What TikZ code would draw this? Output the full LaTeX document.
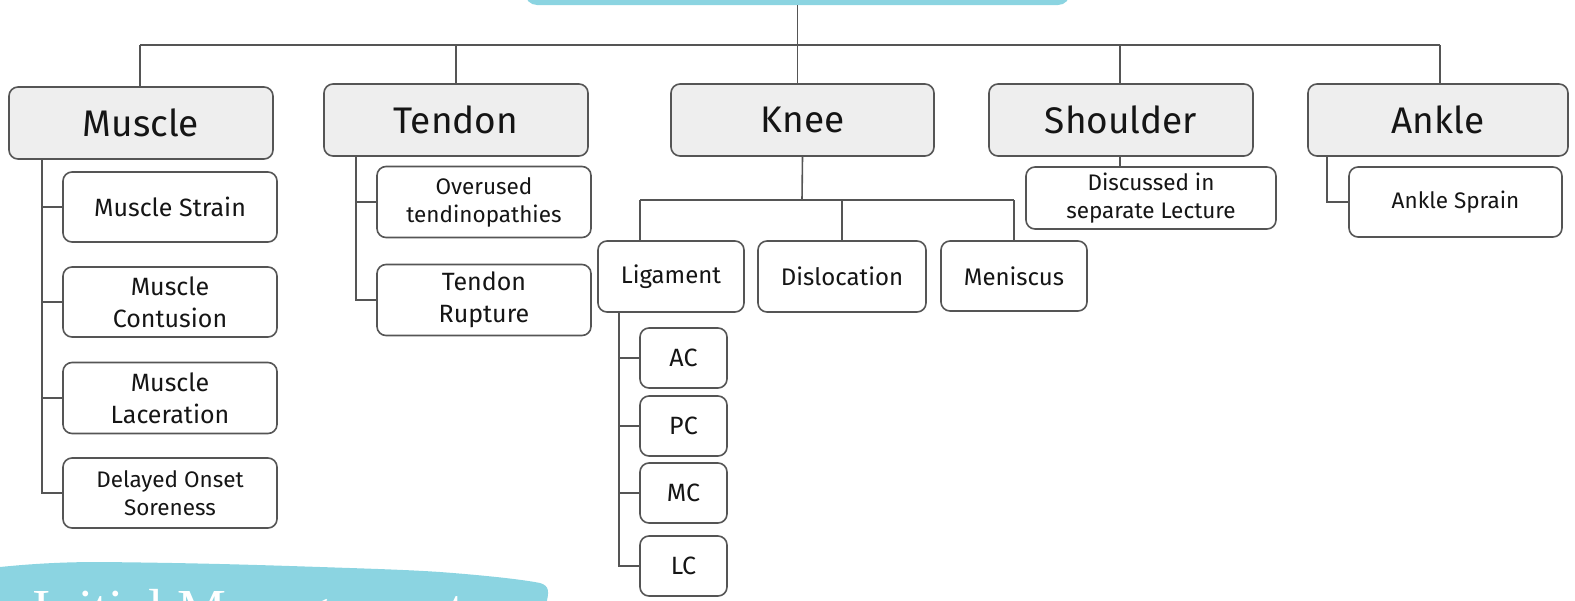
\documentclass[tikz,border=0pt]{standalone}
\usepackage{fontspec}
\setmainfont{Fira Sans}
\newfontfamily\brushfont{Liberation Serif}
\definecolor{brush}{HTML}{8BD4E1}
\definecolor{lgray}{HTML}{555555}
\definecolor{boxfill}{HTML}{EEEEEE}
\definecolor{txt}{HTML}{151515}
\tikzset{
  conn/.style={draw=lgray, line width=1.6pt},
  box/.style={draw=lgray, line width=1.6pt, rounded corners=9pt, fill=white,
     text=txt, align=center, inner sep=0pt, font=\fontsize{25}{32}\selectfont},
  topbox/.style={box, fill=boxfill, minimum width=264, minimum height=72,
     font=\fontsize{37}{42}\selectfont},
  smallbox/.style={box, font=\fontsize{22.5}{28}\selectfont},
  midbox/.style={box, font=\fontsize{24}{28}\selectfont},
}
\begin{document}
\begin{tikzpicture}[x=1pt,y=-1pt]
\useasboundingbox (0,0) rectangle (1575,600);
% top banner (cut by the page edge)
\node[fill=brush, rounded corners=12pt, minimum width=545, minimum height=40, inner sep=0pt] (root) at (797.5,-15) {};
% bottom-left brush banner
\fill[brush] (0,567) .. controls (30,564) and (60,562) .. (100,562)
  .. controls (200,563) and (260,565) .. (320,567)
  .. controls (380,569) and (410,570) .. (440,572)
  .. controls (480,575) and (520,579) .. (540,583)
  .. controls (550,586) and (549,592) .. (546,605) -- (0,605) -- cycle;
\node[anchor=base west, text=white, inner sep=0pt, font=\brushfont\fontsize{55}{55}\selectfont] (ttl) at (32,627) {Initial Management};

% top level
\node[topbox] (muscle) at (141,123) {Muscle};
\node[topbox] (tendon) at (456,120) {Tendon};
\node[topbox, minimum width=263] (knee) at (802.5,120) {Knee};
\node[topbox] (shoulder) at (1121,120) {Shoulder};
\node[topbox, minimum width=260] (ankle) at (1438,120) {Ankle};

% muscle children
\node[box, minimum width=214, minimum height=70] (mstrain) at (170,207) {Muscle Strain};
\node[box, minimum width=214, minimum height=70] (mcont) at (170,302) {Muscle\\Contusion};
\node[box, minimum width=214, minimum height=71] (mlac) at (170,398) {Muscle\\Laceration};
\node[smallbox, minimum width=214, minimum height=70] (mdos) at (170,493) {Delayed Onset\\Soreness};

% tendon children
\node[smallbox, minimum width=214, minimum height=71] (tover) at (484,202) {Overused\\tendinopathies};
\node[box, minimum width=214, minimum height=71] (trup) at (484,300) {Tendon\\Rupture};

% knee children
\node[midbox, minimum width=146, minimum height=71] (lig) at (671,276.5) {Ligament};
\node[midbox, minimum width=168, minimum height=71] (disl) at (842,276.5) {Dislocation};
\node[midbox, minimum width=146, minimum height=70] (menis) at (1014,276) {Meniscus};
\node[box, minimum width=87, minimum height=60] (ac) at (683.5,358) {AC};
\node[box, minimum width=87, minimum height=60] (pc) at (683.5,426) {PC};
\node[box, minimum width=87, minimum height=60] (mc) at (683.5,493) {MC};
\node[box, minimum width=87, minimum height=60] (lc) at (683.5,566) {LC};

% shoulder / ankle children
\node[smallbox, minimum width=250, minimum height=62] (disc) at (1151,198) {Discussed in\\separate Lecture};
\node[smallbox, minimum width=213, minimum height=70] (asprain) at (1455.5,202) {Ankle Sprain};

% bus
\coordinate (busL) at (140,45);
\coordinate (busR) at (1440,45);
\draw[conn] (root.south) -- (root.south |- knee.north);
\draw[conn] (busL) -- (busR);
\draw[conn] (busL) -- (busL |- muscle.north);
\draw[conn] (tendon.north |- busL) -- (tendon.north);
\draw[conn] ([xshift=-1]shoulder.north |- busL) -- ([xshift=-1]shoulder.north);
\draw[conn] (busR) -- (busR |- ankle.north);

% muscle tree
\coordinate (mt) at ([xshift=34]muscle.south west);
\draw[conn] (mt) |- (mdos.west);
\foreach \n in {mstrain,mcont,mlac} \draw[conn] (mt |- \n.west) -- (\n.west);

% tendon tree
\coordinate (tt) at ([xshift=33]tendon.south west);
\draw[conn] (tt) |- (trup.west);
\draw[conn] (tt |- tover.west) -- (tover.west);

% knee tree
\coordinate (kbus) at (802,200);
\draw[conn] (knee.south) -- (kbus);
\draw[conn] ([xshift=-31]lig.north |- kbus) -- (menis.north |- kbus);
\draw[conn] ([xshift=-31]lig.north |- kbus) -- ([xshift=-31]lig.north);
\draw[conn] (disl.north |- kbus) -- (disl.north);
\draw[conn] (menis.north |- kbus) -- (menis.north);

% ligament tree
\coordinate (lt) at ([xshift=22]lig.south west);
\draw[conn] (lt) |- (lc.west);
\foreach \n in {ac,pc,mc} \draw[conn] (lt |- \n.west) -- (\n.west);

% shoulder
\draw[conn] ([xshift=-1]shoulder.south) -- ([xshift=-1]shoulder.south |- disc.north);

% ankle
\coordinate (at) at ([xshift=20]ankle.south west);
\draw[conn] (at) |- (asprain.west);
\end{tikzpicture}
\end{document}
